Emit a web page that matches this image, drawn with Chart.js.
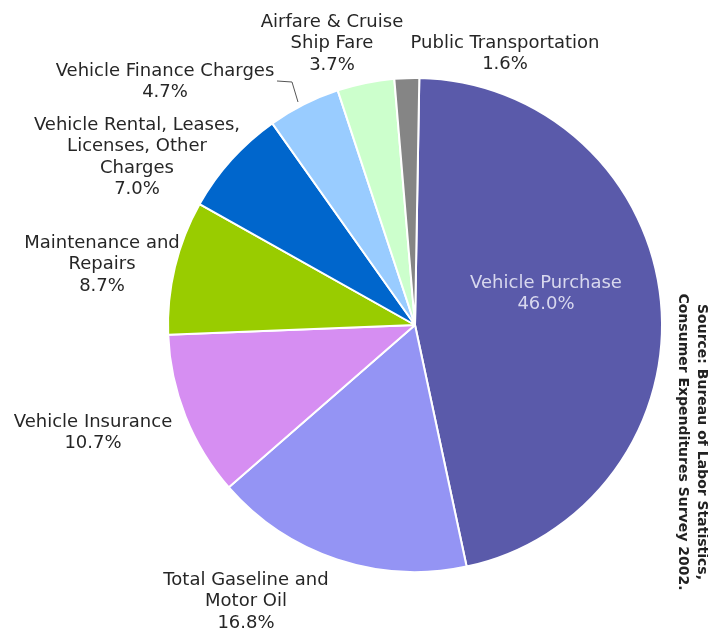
<!DOCTYPE html>
<html>
<head>
<meta charset="utf-8">
<title>Transportation spending</title>
<script src="https://cdn.jsdelivr.net/npm/chart.js@4.4.1/dist/chart.umd.min.js"></script>
<style>
    html, body { margin: 0; padding: 0; background: #fff; }
    #wrap { position: relative; width: 708px; height: 630px; }
</style>
</head>
<body>
<div id="wrap"><canvas id="chart" width="708" height="630"></canvas></div>
<script>
// Data
const categories = [
    'Vehicle Purchase',
    'Total Gaseline and Motor Oil',
    'Vehicle Insurance',
    'Maintenance and Repairs',
    'Vehicle Rental, Leases, Licenses, Other Charges',
    'Vehicle Finance Charges',
    'Airfare & Cruise Ship Fare',
    'Public Transportation'
];
const shares = [46.0, 16.8, 10.7, 8.7, 7.0, 4.7, 3.7, 1.6];
const labelLines = [
    ['Vehicle Purchase'],
    ['Total Gaseline and', 'Motor Oil'],
    ['Vehicle Insurance'],
    ['Maintenance and', 'Repairs'],
    ['Vehicle Rental, Leases,', 'Licenses, Other', 'Charges'],
    ['Vehicle Finance Charges'],
    ['Airfare & Cruise', 'Ship Fare'],
    ['Public Transportation']
];
const sourceLines = ['Source: Bureau of Labor Statistics,', 'Consumer Expenditures Survey 2002.'];

// Styles
const sliceColors = ['#5a5aaa', '#9494f4', '#d68ef2', '#99cc00', '#0066cc', '#99ccff', '#ccffcc', '#858585'];
const FONT = "18px 'DejaVu Sans', Verdana, sans-serif";

// label block anchors, relative to the pie center (x, y of first line)
const labelSpots = [
    [131, -42], [-169, 255], [-322, 97], [-313, -82],
    [-278, -200], [-250, -254], [-83, -303], [90, -282]
];
const LINE_H = 21.5;

const labelPlugin = {
    id: 'sliceLabels',
    afterDraw(chart) {
        const ctx = chart.ctx;
        const arc = chart.getDatasetMeta(0).data[0];
        const cx = arc.x, cy = arc.y;
        ctx.save();
        ctx.font = FONT;
        ctx.textAlign = 'center';
        ctx.textBaseline = 'middle';
        labelLines.forEach((lines, i) => {
            const [dx, dy] = labelSpots[i];
            const all = lines.concat([shares[i].toFixed(1) + '%']);
            ctx.fillStyle = i === 0 ? '#d8d8ee' : '#262626';
            all.forEach((t, k) => ctx.fillText(t, cx + dx, cy + dy + k * LINE_H));
        });

        // leader line for finance charges
        ctx.strokeStyle = '#555';
        ctx.lineWidth = 1;
        ctx.beginPath();
        ctx.moveTo(cx - 138, cy - 244);
        ctx.lineTo(cx - 123, cy - 243);
        ctx.lineTo(cx - 117, cy - 223);
        ctx.stroke();

        // rotated source note
        ctx.font = "bold 14px 'DejaVu Sans', Verdana, sans-serif";
        ctx.fillStyle = '#222';
        ctx.translate(702, 442);
        ctx.rotate(Math.PI / 2);
        sourceLines.forEach((t, k) => ctx.fillText(t, 0, k * 19));
        ctx.restore();
    }
};

new Chart(document.getElementById('chart'), {
    type: 'pie',
    data: {
        labels: categories,
        datasets: [{
            data: shares,
            backgroundColor: sliceColors,
            borderColor: '#ffffff',
            borderWidth: 2
        }]
    },
    options: {
        responsive: false,
        animation: false,
        rotation: 1,
        layout: { padding: { left: 167, right: 45, top: 77, bottom: 57 } },
        plugins: {
            legend: { display: false },
            tooltip: { enabled: false }
        }
    },
    plugins: [labelPlugin]
});
</script>
</body>
</html>
